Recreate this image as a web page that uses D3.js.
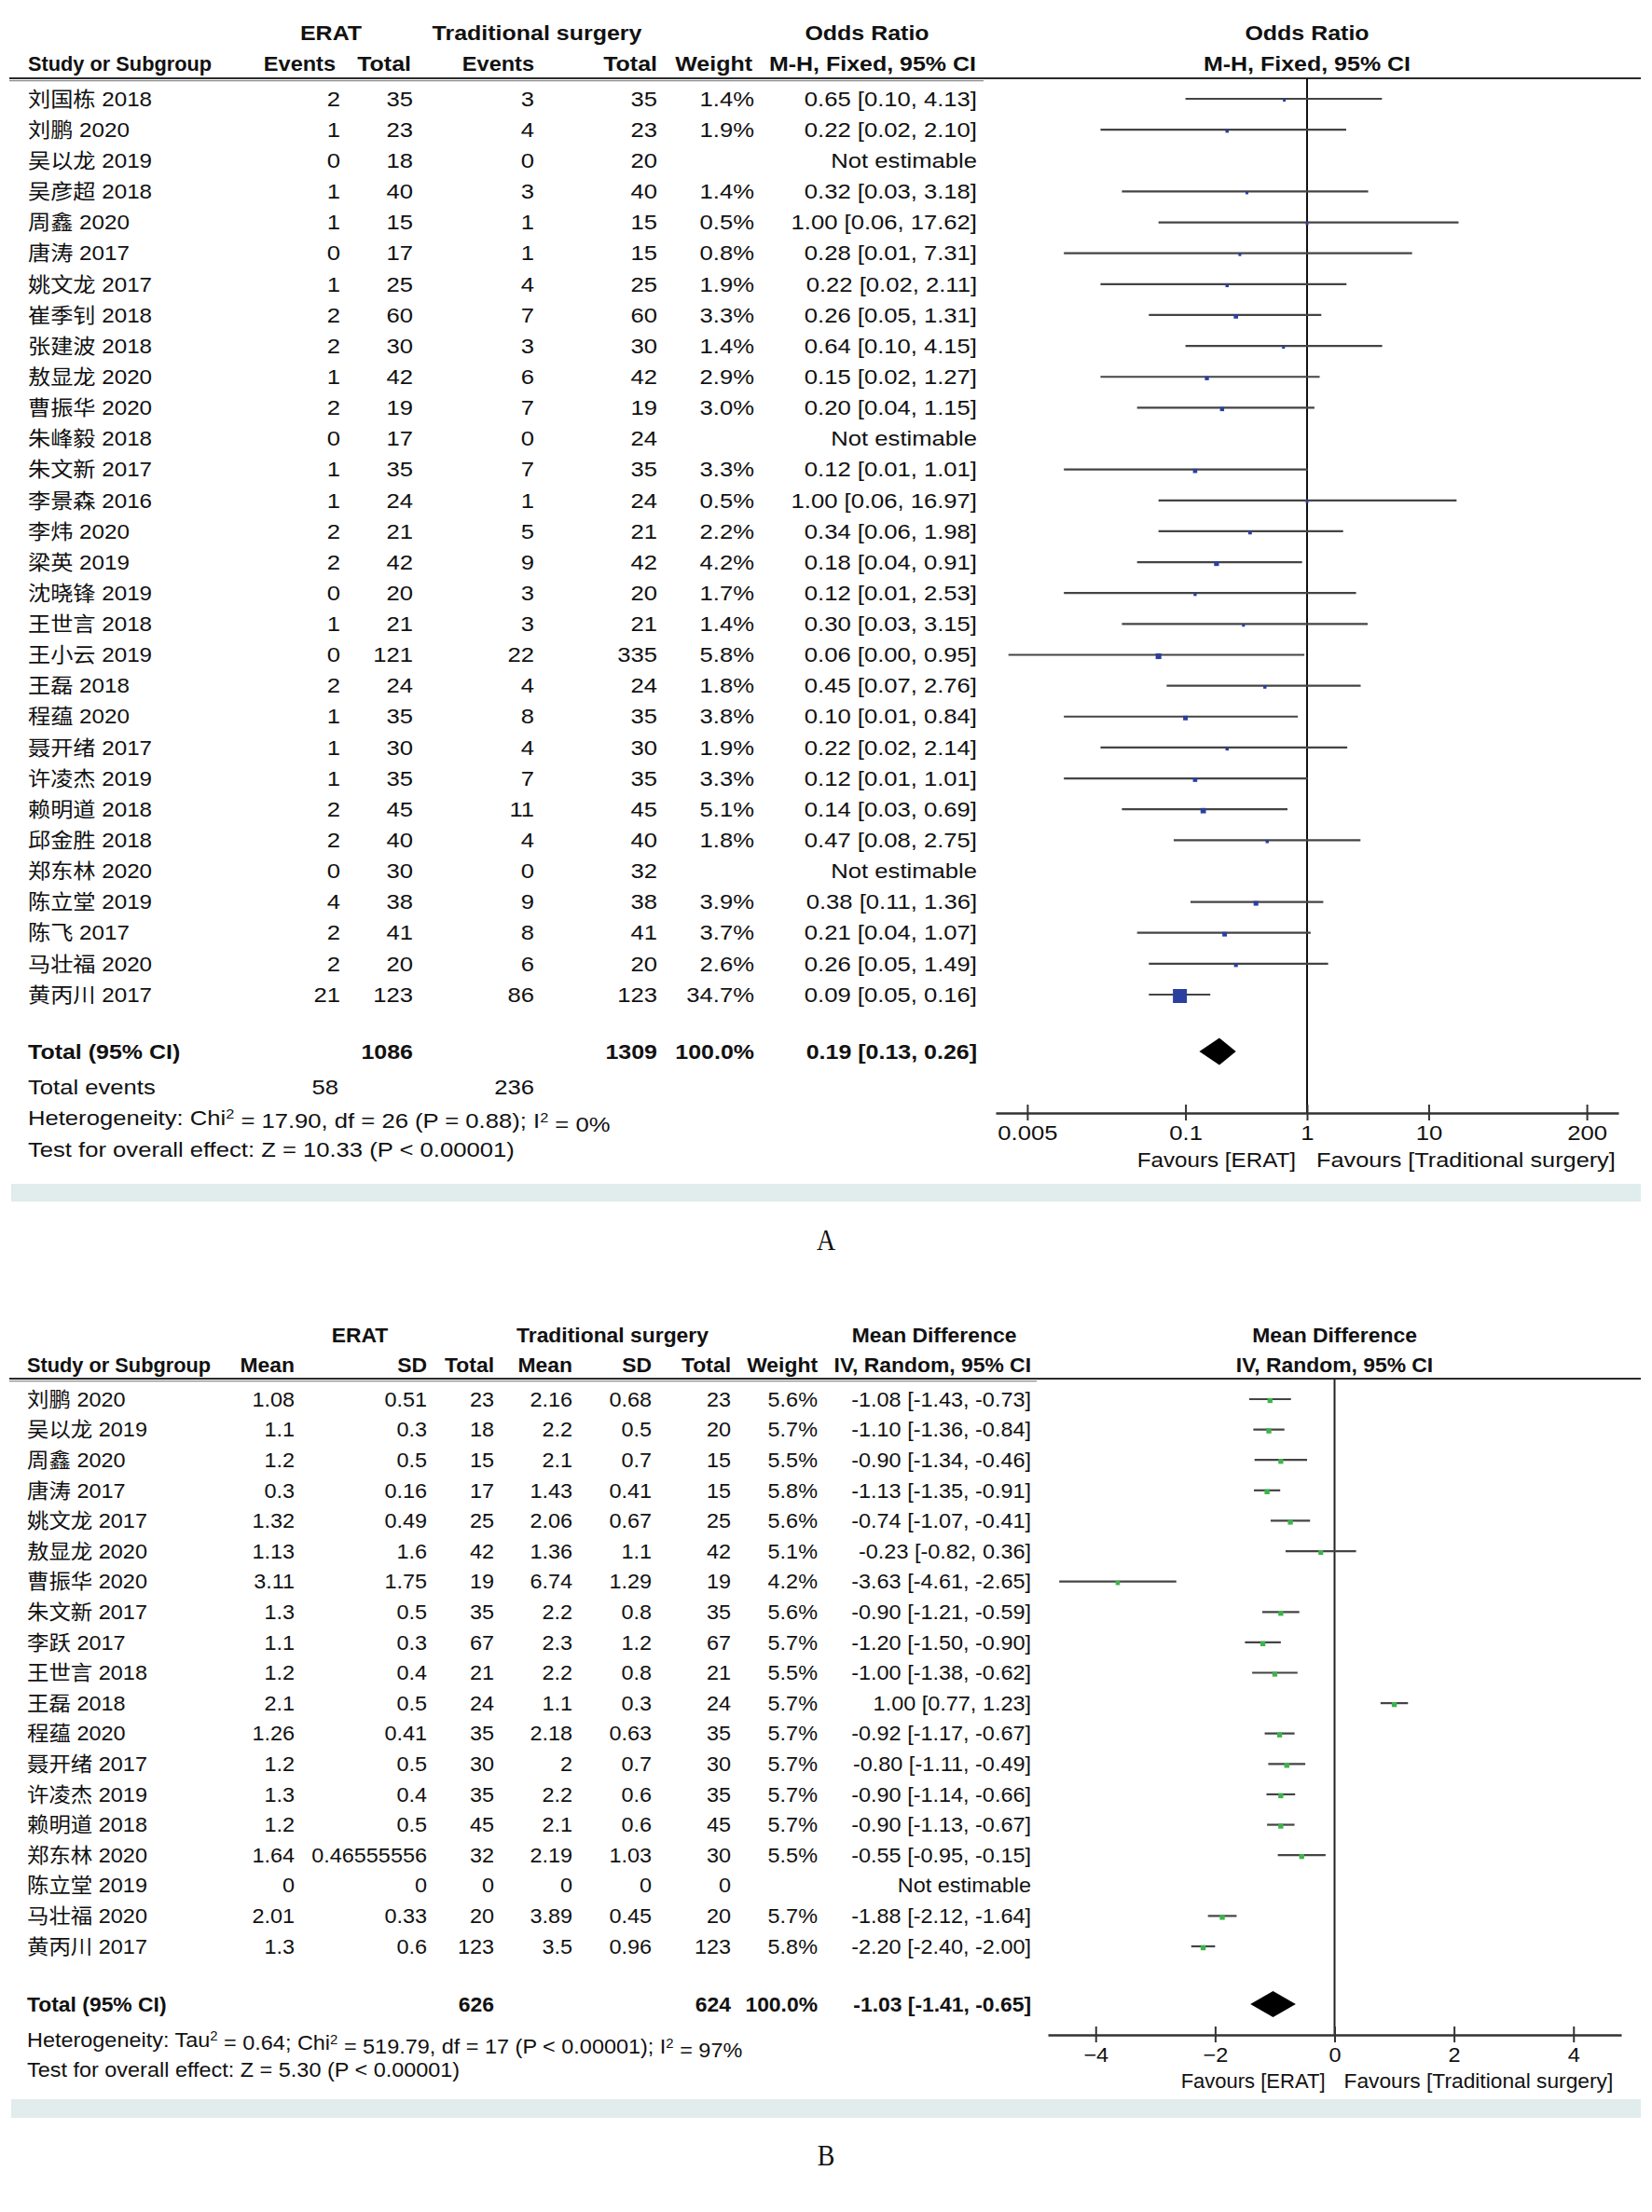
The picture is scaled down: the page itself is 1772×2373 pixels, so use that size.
<!DOCTYPE html>
<html><head><meta charset="utf-8">
<script src="https://cdn.jsdelivr.net/npm/d3@7"></script>
<style>
body{margin:0;background:#fff;}
text{font-family:"Liberation Sans","Noto Sans CJK SC",sans-serif;fill:#111;}
</style>
</head><body>
<svg id="chart" width="1772" height="2373" xmlns="http://www.w3.org/2000/svg"></svg>
<script>
// ---------------- DATA: panel A (Odds Ratio) ----------------
const studyA = ["刘国栋 2018","刘鹏 2020","吴以龙 2019","吴彦超 2018","周鑫 2020","唐涛 2017","姚文龙 2017","崔季钊 2018","张建波 2018","敖显龙 2020","曹振华 2020","朱峰毅 2018","朱文新 2017","李景森 2016","李炜 2020","梁英 2019","沈晓锋 2019","王世言 2018","王小云 2019","王磊 2018","程蕴 2020","聂开绪 2017","许凌杰 2019","赖明道 2018","邱金胜 2018","郑东林 2020","陈立堂 2019","陈飞 2017","马壮福 2020","黄丙川 2017"];
const eventsEA = [2,1,0,1,1,0,1,2,2,1,2,0,1,1,2,2,0,1,0,2,1,1,1,2,2,0,4,2,2,21];
const totalEA  = [35,23,18,40,15,17,25,60,30,42,19,17,35,24,21,42,20,21,121,24,35,30,35,45,40,30,38,41,20,123];
const eventsCA = [3,4,0,3,1,1,4,7,3,6,7,0,7,1,5,9,3,3,22,4,8,4,7,11,4,0,9,8,6,86];
const totalCA  = [35,23,20,40,15,15,25,60,30,42,19,24,35,24,21,42,20,21,335,24,35,30,35,45,40,32,38,41,20,123];
const weightA  = [1.4,1.9,null,1.4,0.5,0.8,1.9,3.3,1.4,2.9,3.0,null,3.3,0.5,2.2,4.2,1.7,1.4,5.8,1.8,3.8,1.9,3.3,5.1,1.8,null,3.9,3.7,2.6,34.7];
const orA      = [0.65,0.22,null,0.32,1.00,0.28,0.22,0.26,0.64,0.15,0.20,null,0.12,1.00,0.34,0.18,0.12,0.30,0.06,0.45,0.10,0.22,0.12,0.14,0.47,null,0.38,0.21,0.26,0.09];
const orLowA   = [0.10,0.02,null,0.03,0.06,0.01,0.02,0.05,0.10,0.02,0.04,null,0.01,0.06,0.06,0.04,0.01,0.03,0.0035,0.07,0.01,0.02,0.01,0.03,0.08,null,0.11,0.04,0.05,0.05];
const orHighA  = [4.13,2.10,null,3.18,17.62,7.31,2.11,1.31,4.15,1.27,1.15,null,1.01,16.97,1.98,0.91,2.53,3.15,0.95,2.76,0.84,2.14,1.01,0.69,2.75,null,1.36,1.07,1.49,0.16];
const totalNA = [1086, 1309];
const totalEventsA = [58, 236];
const pooledA = [0.19, 0.13, 0.26];
const ticksA = [0.005, 0.1, 1, 10, 200];
const tickLabelsA = ["0.005","0.1","1","10","200"];
const hetA = ["Heterogeneity: Chi","2"," = 17.90, df = 26 (P = 0.88); I","2"," = 0%"];
const testA = "Test for overall effect: Z = 10.33 (P < 0.00001)";

// ---------------- DATA: panel B (Mean Difference) ----------------
const studyB = ["刘鹏 2020","吴以龙 2019","周鑫 2020","唐涛 2017","姚文龙 2017","敖显龙 2020","曹振华 2020","朱文新 2017","李跃 2017","王世言 2018","王磊 2018","程蕴 2020","聂开绪 2017","许凌杰 2019","赖明道 2018","郑东林 2020","陈立堂 2019","马壮福 2020","黄丙川 2017"];
const meanEB = [1.08,1.1,1.2,0.3,1.32,1.13,3.11,1.3,1.1,1.2,2.1,1.26,1.2,1.3,1.2,1.64,0,2.01,1.3];
const sdEB   = [0.51,0.3,0.5,0.16,0.49,1.6,1.75,0.5,0.3,0.4,0.5,0.41,0.5,0.4,0.5,0.46555556,0,0.33,0.6];
const nEB    = [23,18,15,17,25,42,19,35,67,21,24,35,30,35,45,32,0,20,123];
const meanCB = [2.16,2.2,2.1,1.43,2.06,1.36,6.74,2.2,2.3,2.2,1.1,2.18,2,2.2,2.1,2.19,0,3.89,3.5];
const sdCB   = [0.68,0.5,0.7,0.41,0.67,1.1,1.29,0.8,1.2,0.8,0.3,0.63,0.7,0.6,0.6,1.03,0,0.45,0.96];
const nCB    = [23,20,15,15,25,42,19,35,67,21,24,35,30,35,45,30,0,20,123];
const weightB = [5.6,5.7,5.5,5.8,5.6,5.1,4.2,5.6,5.7,5.5,5.7,5.7,5.7,5.7,5.7,5.5,null,5.7,5.8];
const mdB     = [-1.08,-1.10,-0.90,-1.13,-0.74,-0.23,-3.63,-0.90,-1.20,-1.00,1.00,-0.92,-0.80,-0.90,-0.90,-0.55,null,-1.88,-2.20];
const mdLowB  = [-1.43,-1.36,-1.34,-1.35,-1.07,-0.82,-4.61,-1.21,-1.50,-1.38,0.77,-1.17,-1.11,-1.14,-1.13,-0.95,null,-2.12,-2.40];
const mdHighB = [-0.73,-0.84,-0.46,-0.91,-0.41,0.36,-2.65,-0.59,-0.90,-0.62,1.23,-0.67,-0.49,-0.66,-0.67,-0.15,null,-1.64,-2.00];
const totalNB = [626, 624];
const pooledB = [-1.03, -1.41, -0.65];
const ticksB = [-4, -2, 0, 2, 4];
const hetB = ["Heterogeneity: Tau","2"," = 0.64; Chi","2"," = 519.79, df = 17 (P < 0.00001); I","2"," = 97%"];
const testB = "Test for overall effect: Z = 5.30 (P < 0.00001)";

// ---------------- DRAWING ----------------
const svg = d3.select("#chart");
const FS = 22;
const INK = "#111";
let SX = 1.165, SXB = 1.136;   // horizontal text stretch (regular / bold), set per panel

function txt(x, y, s, anchor="start", bold=false, sxOverride=null) {
  const sx = sxOverride != null ? sxOverride : (bold ? SXB : SX);
  return svg.append("text")
    .attr("transform", `translate(${x},${y}) scale(${sx},1)`)
    .attr("text-anchor", anchor).attr("dy", "0.35em")
    .style("font-size", FS+"px").style("font-weight", bold?"bold":"normal")
    .text(s);
}
function supText(x, y, parts) {
  const t = svg.append("text")
    .attr("transform", `translate(${x},${y}) scale(${SX},1)`)
    .attr("y", 0).style("font-size", FS+"px");
  parts.forEach((p, i) => {
    const ts = t.append("tspan").text(p);
    if (i % 2 === 1) ts.attr("dy", "-0.45em").style("font-size", "14px");
    else ts.attr("dy", i === 0 ? "0.35em" : "0.45em");
  });
  return t;
}
function fmt2(v){ return v.toFixed(2); }

function headerRule(y, tableEnd) {
  svg.append("line").attr("x1", 10).attr("x2", 1760).attr("y1", y).attr("y2", y)
    .attr("stroke", "#2a2a2a").attr("stroke-width", 2.2);
  svg.append("line").attr("x1", 10).attr("x2", tableEnd).attr("y1", y + 2.6).attr("y2", y + 2.6)
    .attr("stroke", "#8a8a8a").attr("stroke-width", 1.4);
}

function drawAxis(scale, y, tickVals, fmt, labelDy) {
  const ax = d3.axisBottom(scale).tickValues(tickVals).tickFormat(fmt).tickSize(8).tickSizeOuter(0);
  const g = svg.append("g").attr("transform", `translate(0,${y})`).call(ax);
  g.select(".domain").attr("stroke", "#333").attr("stroke-width", 2.6);
  g.selectAll(".tick line").attr("y1", -9).attr("y2", 8).attr("stroke", "#333").attr("stroke-width", 2);
  g.selectAll(".tick text")
    .attr("y", null).attr("dy", "0.35em")
    .attr("transform", `translate(0,${labelDy}) scale(${SX},1)`)
    .attr("fill", INK).style("font-size", FS+"px")
    .style("font-family", '"Liberation Sans",sans-serif');
}

// ======== PANEL A ========
SX = 1.165; SXB = 1.136;
const xA = d3.scaleLog().domain([1/364, 364]).range([1068, 1736]);
const yA = d3.scaleLinear().domain([0, studyA.length - 1]).range([106, 1067]);
const sizeA = d3.scaleSqrt().domain([0, 34.7]).range([0, 15]);
const colA = {evE: 365, totE: 443, evC: 573, totC: 705, w: 809, ci: 1048};

txt(355, 35, "ERAT", "middle", true);
txt(576, 35, "Traditional surgery", "middle", true);
txt(930, 35, "Odds Ratio", "middle", true);
txt(xA(1), 35, "Odds Ratio", "middle", true);
txt(30, 68, "Study or Subgroup", "start", true, 0.99);
txt(360, 68, "Events", "end", true, 1.07);
txt(441, 68, "Total", "end", true);
txt(573, 68, "Events", "end", true, 1.07);
txt(705, 68, "Total", "end", true);
txt(807, 68, "Weight", "end", true);
txt(1047, 68, "M-H, Fixed, 95% CI", "end", true);
txt(xA(1), 68, "M-H, Fixed, 95% CI", "middle", true);
headerRule(84, 1055);

svg.append("line").attr("x1", xA(1)).attr("x2", xA(1)).attr("y1", 84).attr("y2", 1194)
  .attr("stroke", "#111").attr("stroke-width", 2);

studyA.forEach((s, i) => {
  const y = yA(i);
  txt(30, y, s, "start", false, 1.1);
  txt(colA.evE, y, String(eventsEA[i]), "end");
  txt(colA.totE, y, String(totalEA[i]), "end");
  txt(colA.evC, y, String(eventsCA[i]), "end");
  txt(colA.totC, y, String(totalCA[i]), "end");
  if (weightA[i] != null) txt(colA.w, y, weightA[i].toFixed(1) + "%", "end");
  if (orA[i] != null) {
    txt(colA.ci, y, `${fmt2(orA[i])} [${fmt2(orLowA[i])}, ${fmt2(orHighA[i])}]`, "end");
    svg.append("line").attr("x1", xA(orLowA[i])).attr("x2", xA(orHighA[i]))
      .attr("y1", y).attr("y2", y).attr("stroke", "#444").attr("stroke-width", 2.2);
    const s2 = Math.max(sizeA(weightA[i]), 3);
    svg.append("rect").attr("x", xA(orA[i]) - s2/2).attr("y", y + 1.5 - s2/2)
      .attr("width", s2).attr("height", s2).attr("fill", "#2b3f9f");
  } else {
    txt(colA.ci, y, "Not estimable", "end");
  }
});

const yTotA = 1128;
txt(30, yTotA, "Total (95% CI)", "start", true);
txt(colA.totE, yTotA, String(totalNA[0]), "end", true);
txt(colA.totC, yTotA, String(totalNA[1]), "end", true);
txt(colA.w, yTotA, "100.0%", "end", true);
txt(colA.ci, yTotA, `${fmt2(pooledA[0])} [${fmt2(pooledA[1])}, ${fmt2(pooledA[2])}]`, "end", true);
svg.append("path")
  .attr("d", `M${xA(pooledA[1])},${yTotA} L${xA(pooledA[0])},${yTotA-14.5} L${xA(pooledA[2])},${yTotA} L${xA(pooledA[0])},${yTotA+14.5} Z`)
  .attr("fill", "#000");
txt(30, 1166, "Total events");
txt(colA.evE - 2, 1166, String(totalEventsA[0]), "end");
txt(colA.evC, 1166, String(totalEventsA[1]), "end");
supText(30, 1199, hetA);
txt(30, 1233, testA);

drawAxis(xA, 1194, ticksA, (d, i) => tickLabelsA[i], 21);
txt(xA(1) - 12, 1244, "Favours [ERAT]", "end", false, 1.1);
txt(xA(1) + 10, 1244, "Favours [Traditional surgery]", "start", false, 1.15);

svg.append("rect").attr("x", 12).attr("y", 1270).attr("width", 1748).attr("height", 19).attr("fill", "#e1ecec");
svg.append("text").attr("transform", `translate(886,1330) scale(0.9,1)`).attr("text-anchor", "middle").attr("dy", "0.35em")
  .style("font-family", '"Liberation Serif",serif').style("font-size", "31px").text("A");

// ======== PANEL B ========
SX = 1.066; SXB = 1.04;
const xB = d3.scaleLinear().domain([-4.8, 4.8]).range([1124, 1739]);
const yB = d3.scaleLinear().domain([0, studyB.length - 1]).range([1501, 2088]);
const sizeB = d3.scaleSqrt().domain([0, 5.8]).range([0, 5.4]);
const colB = {mE: 316, sdE: 458, nE: 530, mC: 614, sdC: 699, nC: 784, w: 877, ci: 1106};

txt(386, 1432, "ERAT", "middle", true);
txt(657, 1432, "Traditional surgery", "middle", true);
txt(1002, 1432, "Mean Difference", "middle", true);
txt(xB(0), 1432, "Mean Difference", "middle", true);
txt(29, 1464, "Study or Subgroup", "start", true, 0.99);
txt(colB.mE, 1464, "Mean", "end", true);
txt(colB.sdE, 1464, "SD", "end", true);
txt(colB.nE, 1464, "Total", "end", true);
txt(colB.mC, 1464, "Mean", "end", true);
txt(colB.sdC, 1464, "SD", "end", true);
txt(colB.nC, 1464, "Total", "end", true);
txt(colB.w, 1464, "Weight", "end", true);
txt(colB.ci, 1464, "IV, Random, 95% CI", "end", true);
txt(xB(0), 1464, "IV, Random, 95% CI", "middle", true);
headerRule(1479, 1112);

svg.append("line").attr("x1", xB(0)).attr("x2", xB(0)).attr("y1", 1479).attr("y2", 2183)
  .attr("stroke", "#222").attr("stroke-width", 2);

studyB.forEach((s, i) => {
  const y = yB(i);
  txt(29, y, s);
  txt(colB.mE, y, String(meanEB[i]), "end");
  txt(colB.sdE, y, String(sdEB[i]), "end");
  txt(colB.nE, y, String(nEB[i]), "end");
  txt(colB.mC, y, String(meanCB[i]), "end");
  txt(colB.sdC, y, String(sdCB[i]), "end");
  txt(colB.nC, y, String(nCB[i]), "end");
  if (weightB[i] != null) txt(colB.w, y, weightB[i].toFixed(1) + "%", "end");
  if (mdB[i] != null) {
    txt(colB.ci, y, `${fmt2(mdB[i])} [${fmt2(mdLowB[i])}, ${fmt2(mdHighB[i])}]`, "end");
    svg.append("line").attr("x1", xB(mdLowB[i])).attr("x2", xB(mdHighB[i]))
      .attr("y1", y).attr("y2", y).attr("stroke", "#444").attr("stroke-width", 2.2);
    const s2 = sizeB(weightB[i]);
    svg.append("rect").attr("x", xB(mdB[i]) - s2/2).attr("y", y + 1.5 - s2/2)
      .attr("width", s2).attr("height", s2).attr("fill", "#3cb44b");
  } else {
    txt(colB.ci, y, "Not estimable", "end");
  }
});

const yTotB = 2150;
txt(29, yTotB, "Total (95% CI)", "start", true);
txt(colB.nE, yTotB, String(totalNB[0]), "end", true);
txt(colB.nC, yTotB, String(totalNB[1]), "end", true);
txt(colB.w, yTotB, "100.0%", "end", true);
txt(colB.ci, yTotB, `${fmt2(pooledB[0])} [${fmt2(pooledB[1])}, ${fmt2(pooledB[2])}]`, "end", true);
svg.append("path")
  .attr("d", `M${xB(pooledB[1])},${yTotB} L${xB(pooledB[0])},${yTotB-14} L${xB(pooledB[2])},${yTotB} L${xB(pooledB[0])},${yTotB+14} Z`)
  .attr("fill", "#000");
supText(29, 2188, hetB);
txt(29, 2220, testB);

drawAxis(xB, 2183, ticksB, d3.format("d"), 21);
txt(xB(0) - 10, 2232, "Favours [ERAT]", "end", false, 1.0);
txt(xB(0) + 10, 2232, "Favours [Traditional surgery]", "start", false, 1.035);

svg.append("rect").attr("x", 12).attr("y", 2252).attr("width", 1748).attr("height", 20).attr("fill", "#e1ecec");
svg.append("text").attr("transform", `translate(886,2312) scale(0.9,1)`).attr("text-anchor", "middle").attr("dy", "0.35em")
  .style("font-family", '"Liberation Serif",serif').style("font-size", "31px").text("B");
</script>
</body></html>
